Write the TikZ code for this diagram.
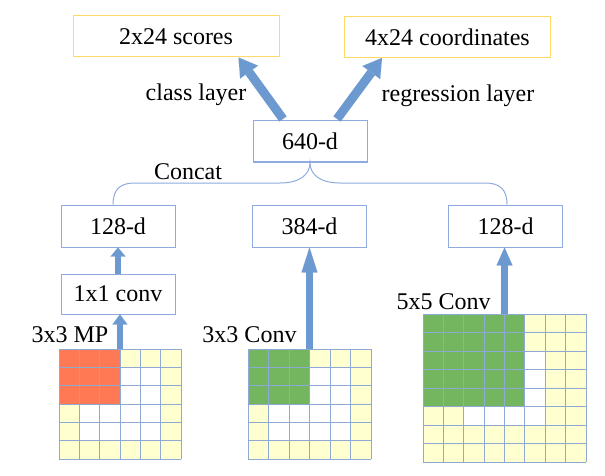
\documentclass[tikz,border=0pt]{standalone}
\usepackage{fontspec}
\setmainfont{Liberation Serif}
\usetikzlibrary{arrows.meta,calc}
\definecolor{boxblue}{RGB}{143,170,220}
\definecolor{outyellow}{RGB}{255,217,102}
\definecolor{arrowblue}{RGB}{108,154,208}
\definecolor{gridblue}{RGB}{140,170,212}
\definecolor{cellyellow}{RGB}{255,255,208}
\definecolor{mpred}{RGB}{255,122,84}
\definecolor{convgreen}{RGB}{116,182,96}

\begin{document}
\begin{tikzpicture}[x=1pt, y=-1pt,
    every node/.style={font=\rmfamily\fontsize{24}{28}\selectfont},
    dimbox/.style={draw=boxblue, line width=1pt, minimum width=114pt, minimum height=41pt, inner sep=0pt},
    outbox/.style={draw=outyellow, line width=1pt, minimum width=206pt, minimum height=41pt, inner sep=0pt},
    fatarrow/.style={draw=arrowblue, line width=7pt, -{Triangle[#1, line width=0.01pt]}},
    concatline/.style={draw=boxblue, line width=1pt},
    gridline/.style={draw=gridblue, line width=0.8pt}]
    \useasboundingbox (0,0) rectangle (605,476);

    % output layers
    \node[outbox] (scores) at (176,36.5) {2x24 scores};
    \node[outbox] (coords) at (447.5,37) {4x24 coordinates};
    \node[dimbox] (d640) at (310,141.5) {640-d};
    \node (clslbl) at (196,95) {class layer};
    \node (reglbl) at (458,96) {regression layer};
    \coordinate (clsfoot) at (283,119);
    \coordinate (regfoot) at (337,119);
    \draw[fatarrow={width=22pt,length=18pt}, line width=9pt] (clsfoot) -- ($(scores.south east)+(-41,0)$);
    \draw[fatarrow={width=22pt,length=18pt}, line width=9pt] (regfoot) -- ($(coords.south west)+(38,0)$);

    % branches
    \node[dimbox, minimum height=42pt] (d128a) at (118,226) {128-d};
    \node[dimbox, minimum height=42pt] (d384) at (309.5,226) {384-d};
    \node[dimbox, minimum height=42pt] (d128b) at (505.5,226) {128-d};
    \node[dimbox, minimum height=40pt] (conv1) at (118,294) {1x1 conv};
    \node (concatlbl) at (188,172) {Concat};
    \draw[concatline] ($(d128a.north)+(-5,0)$) .. controls +(0,-16) and +(-14,0) .. (135,183)
        -- (280,183) .. controls +(20,0) and +(0,12) .. (d640.south)
        .. controls +(0,12) and +(-20,0) .. (340,183)
        -- (485,183) .. controls +(14,0) and +(0,-16) .. ($(d128b.north)+(1.5,0)$);
    \draw[fatarrow={width=15pt,length=9pt}, line width=6pt] (conv1.north) -- (d128a.south);

    % 3x3 MP
    \node (mplbl) at (70,335) {3x3 MP};
    \begin{scope}[shift={(59,349)}, x=20.33pt, y=-18.33pt]
      \fill[cellyellow] (0,0) rectangle (6,6);
      \fill[white] (1,1) rectangle (5,5);
      \fill[mpred] (0,0) rectangle (3,3);
      \foreach \i in {0,...,6}
        \draw[gridline] (\i,0) -- (\i,6) (0,\i) -- (6,\i);
      \coordinate (mptop) at (3,0);
    \end{scope}
    \draw[fatarrow={width=15pt,length=10pt}, line width=6pt] (mptop) -- (mptop |- conv1.south);

    % 3x3 Conv
    \node (c3lbl) at (249.5,335) {3x3 Conv};
    \begin{scope}[shift={(248,349)}, x=20.5pt, y=-18.33pt]
      \fill[cellyellow] (0,0) rectangle (6,6);
      \fill[white] (1,1) rectangle (5,5);
      \fill[convgreen] (0,0) rectangle (3,3);
      \foreach \i in {0,...,6}
        \draw[gridline] (\i,0) -- (\i,6) (0,\i) -- (6,\i);
      \coordinate (c3top) at (3,0);
    \end{scope}
    \draw[fatarrow={width=16pt,length=25pt}] (c3top) -- (c3top |- d384.south);

    % 5x5 Conv
    \node (c5lbl) at (443.5,302) {5x5 Conv};
    \begin{scope}[shift={(423,314)}, x=20.375pt, y=-18.5pt]
      \fill[cellyellow] (0,0) rectangle (8,8);
      \fill[white] (2,2) rectangle (6,6);
      \fill[convgreen] (0,0) rectangle (5,5);
      \foreach \i in {0,...,8}
        \draw[gridline] (\i,0) -- (\i,8) (0,\i) -- (8,\i);
      \coordinate (c5top) at (4,0);
    \end{scope}
    \draw[fatarrow={width=16pt,length=18pt}] (c5top) -- (c5top |- d128b.south);
\end{tikzpicture}
\end{document}
